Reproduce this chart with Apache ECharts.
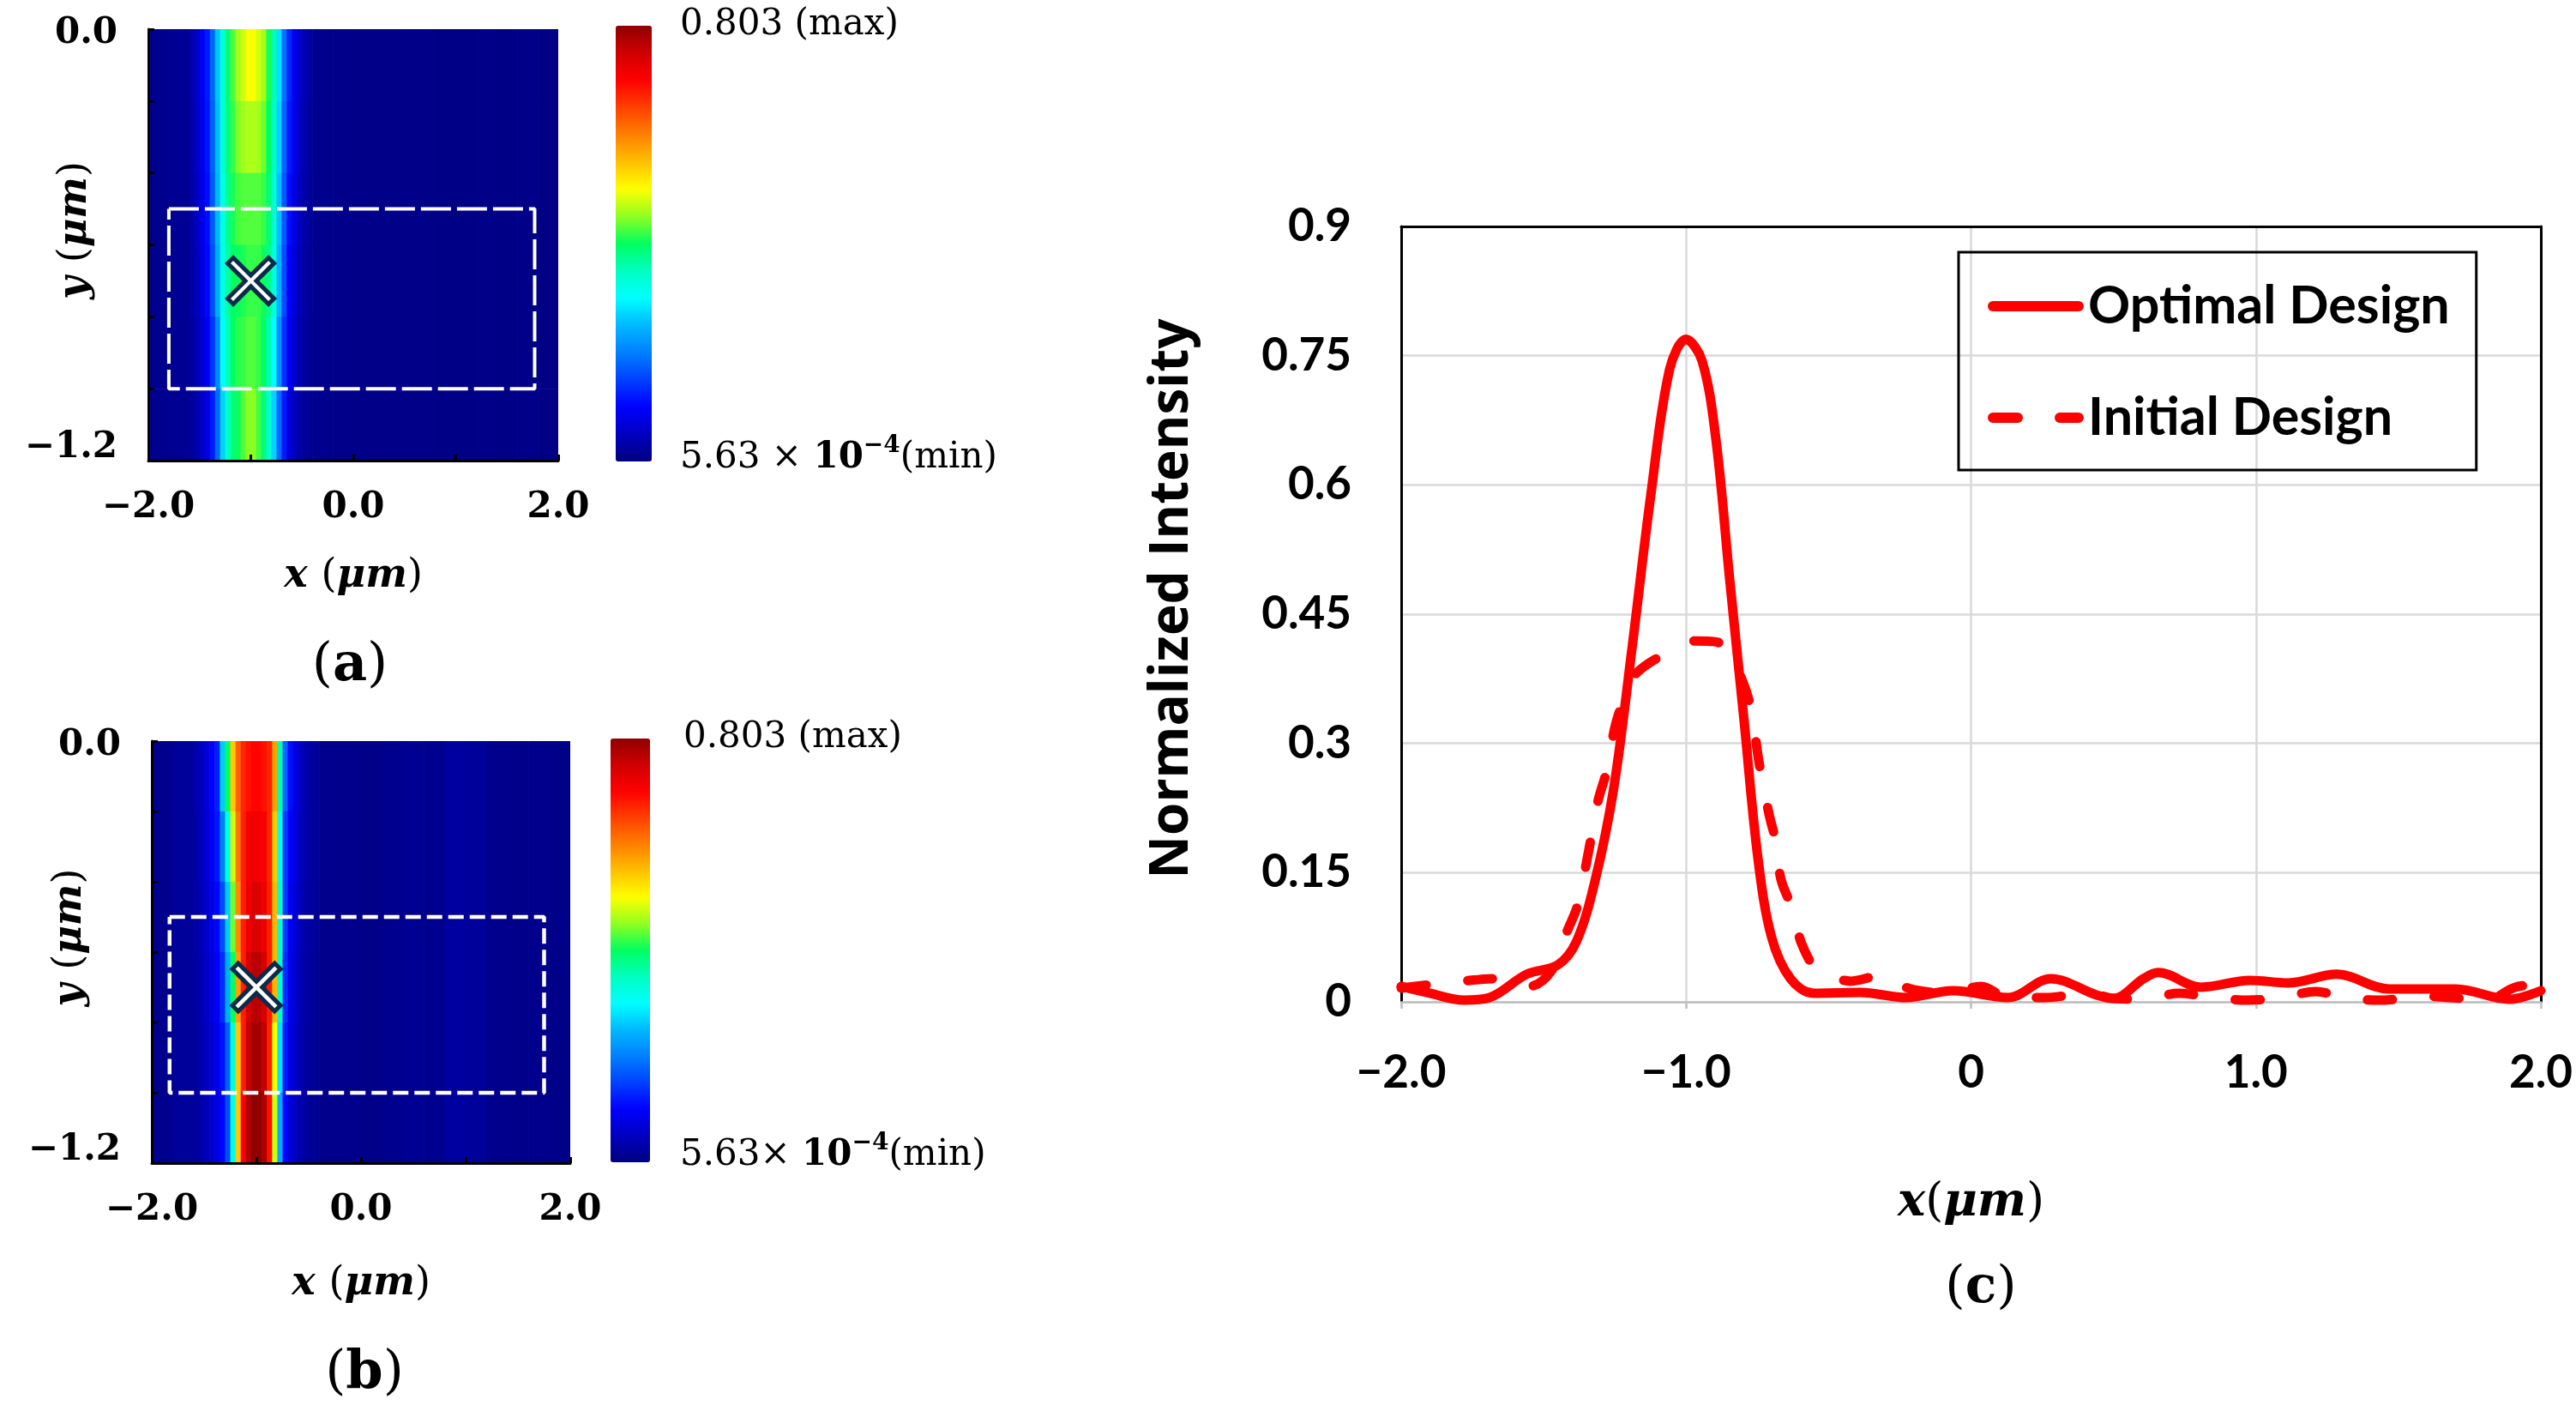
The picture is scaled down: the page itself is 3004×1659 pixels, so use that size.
<!DOCTYPE html>
<html>
<head>
<meta charset="utf-8">
<script src="https://cdn.jsdelivr.net/npm/echarts@6/dist/echarts.min.js"></script>
<style>
html, body { margin: 0; background: #fff; }
#chart { width: 3004px; height: 1659px; }
</style>
</head>
<body>
<div id="chart"></div>
<script>
// field maps: cell centres (um), beam part fine, background coarse
const beamX = [-1.575, -1.525, -1.475, -1.425, -1.375, -1.325, -1.275, -1.225, -1.175, -1.125, -1.075, -1.025,
  -0.975, -0.925, -0.875, -0.825, -0.775, -0.725, -0.675, -0.625, -0.575, -0.525, -0.475, -0.425]
const bgX = [-1.9, -1.7, -0.3, -0.1, 0.1, 0.3, 0.5, 0.7, 0.9, 1.1, 1.3, 1.5, 1.7, 1.9]
const rowY = [-0.1, -0.3, -0.5, -0.7, -0.9, -1.1]

// (a) initial design
const beamA = [
  [.035, .06, .09, .12, .18, .26, .33, .39, .43, .46, .48, .50, .50, .48, .46, .41, .36, .28, .19, .13, .09, .06, .04, .025],
  [.033, .056, .085, .115, .175, .255, .33, .385, .42, .445, .46, .465, .465, .46, .44, .40, .35, .27, .18, .12, .085, .055, .035, .022],
  [.03, .052, .08, .11, .17, .25, .32, .375, .41, .425, .43, .43, .43, .43, .42, .39, .34, .255, .17, .11, .08, .05, .03, .02],
  [.028, .048, .075, .105, .16, .24, .315, .365, .40, .405, .41, .42, .42, .42, .405, .38, .33, .245, .16, .10, .07, .045, .027, .018],
  [.025, .042, .065, .095, .14, .21, .30, .355, .40, .415, .42, .43, .43, .42, .40, .36, .30, .215, .14, .09, .06, .038, .024, .016],
  [.022, .036, .055, .08, .12, .185, .27, .345, .39, .405, .43, .45, .45, .425, .39, .34, .27, .185, .12, .075, .05, .03, .02, .015]
]
const bgA = [.012, .014, .012, .009, .007, .007, .006, .006, .005, .005, .006, .005, .007, .005]

// (b) optimal design
const beamB = [
  [.035, .05, .07, .095, .125, .265, .40, .546, .626, .675, .69, .70, .70, .69, .675, .578, .36, .177, .11, .075, .05, .035, .025, .02],
  [.033, .048, .068, .09, .118, .20, .32, .48, .61, .68, .71, .715, .715, .71, .675, .546, .32, .145, .10, .07, .048, .032, .024, .02],
  [.03, .044, .062, .082, .104, .16, .265, .44, .594, .68, .72, .74, .74, .72, .68, .56, .34, .145, .092, .065, .045, .03, .022, .018],
  [.028, .04, .056, .075, .096, .136, .24, .40, .578, .68, .745, .77, .77, .745, .68, .56, .34, .136, .085, .06, .04, .028, .02, .016],
  [.026, .036, .05, .066, .088, .112, .177, .337, .546, .68, .763, .787, .787, .763, .675, .50, .28, .12, .078, .055, .038, .026, .019, .015],
  [.024, .033, .045, .06, .08, .104, .16, .32, .546, .707, .78, .803, .803, .78, .69, .48, .24, .104, .07, .05, .035, .025, .018, .014]
]
const bgB = [.012, .02, .01, .01, .006, .012, .015, .012, .026, .02, .01, .008, .01, .006]

// dashed region and focal point (um)
const boxA = [[-1.8, -0.5], [1.77, -0.5], [1.77, -1.0], [-1.8, -1.0], [-1.8, -0.5]]
const boxB = [[-1.83, -0.5], [1.75, -0.5], [1.75, -1.0], [-1.83, -1.0], [-1.83, -0.5]]
const focusA = [[-1.0, -0.7]]
const focusB = [[-1.0, -0.7]]

// (c) cross sections
const optX = [-2.0, -1.9, -1.78, -1.69, -1.56, -1.45, -1.385, -1.32, -1.254, -1.19, -1.124, -1.058, -1.0, -0.944,
  -0.895, -0.847, -0.797, -0.748, -0.70, -0.634, -0.552, -0.39, -0.227, -0.063, 0.13, 0.28, 0.44, 0.5, 0.606, 0.657,
  0.808, 0.98, 1.112, 1.284, 1.466, 1.70, 1.89, 2.0]
const optY = [0.018, 0.01, 0.002, 0.005, 0.032, 0.043, 0.07, 0.14, 0.248, 0.41, 0.588, 0.734, 0.769, 0.744,
  0.652, 0.49, 0.328, 0.167, 0.075, 0.027, 0.01, 0.011, 0.005, 0.013, 0.005, 0.027, 0.008, 0.004, 0.027, 0.034,
  0.017, 0.025, 0.022, 0.032, 0.015, 0.015, 0.003, 0.013]
const initX = [-2.0, -1.9, -1.785, -1.67, -1.6, -1.55, -1.47, -1.42, -1.38, -1.345, -1.31, -1.28, -1.245, -1.2,
  -1.17, -1.08, -1.0, -0.97, -0.9, -0.862, -0.805, -0.772, -0.745, -0.709, -0.683, -0.667, -0.626, -0.594, -0.537,
  -0.48, -0.423, -0.31, -0.25, -0.2, -0.08, 0.035, 0.13, 0.26, 0.41, 0.5, 0.606, 0.73, 0.85, 0.97, 1.09, 1.21, 1.32,
  1.45, 1.57, 1.68, 1.81, 1.91, 2.0]
const initY = [0.016, 0.02, 0.024, 0.027, 0.02, 0.018, 0.037, 0.08, 0.113, 0.17, 0.232, 0.267, 0.325, 0.365,
  0.383, 0.403, 0.415, 0.419, 0.418, 0.412, 0.375, 0.34, 0.28, 0.218, 0.183, 0.142, 0.107, 0.067, 0.035,
  0.028, 0.024, 0.031, 0.02, 0.014, 0.01, 0.018, 0.005, 0.005, 0.01, 0.004, 0.003, 0.01, 0.005, 0.002, 0.005, 0.012, 0.004,
  0.002, 0.007, 0.005, 0.002, 0.017, 0.02]

const yTicksC = [0, 0.15, 0.3, 0.45, 0.6, 0.75, 0.9]

const FIELD_MAX = 0.803
const BEAM_STEP = 0.05
const BG_STEP = 0.2
const ROW_STEP = 0.2

const JET = ['#000080', '#0000c0', '#0000ff', '#0040ff', '#0080ff', '#00b8ff', '#00ffff', '#00ffc0', '#00ff60',
  '#90ff20', '#ffff00', '#ffc000', '#ff8000', '#ff4000', '#ff0000', '#d00000', '#900000']

function buildCells(beam, bg) {
  const out = []
  rowY.forEach((y, r) => {
    bgX.forEach((x, j) => out.push([x, y, bg[j], BG_STEP, ROW_STEP]))
    beamX.forEach((x, i) => out.push([x, y, beam[r][i], BEAM_STEP, ROW_STEP]))
  })
  return out
}

function heatCell(params, api) {
  const x = api.value(0), y = api.value(1), w = api.value(3), h = api.value(4)
  const a = api.coord([x - w / 2, y + h / 2])
  const b = api.coord([x + w / 2, y - h / 2])
  return {
    type: 'rect',
    shape: { x: a[0], y: a[1], width: b[0] - a[0] + 0.7, height: b[1] - a[1] + 0.7 },
    style: { fill: api.visual('color') }
  }
}

const zip = (xs, ys) => xs.map((x, i) => [x, ys[i]])

const serif = 'DejaVu Serif'
const tickSerif = { fontFamily: serif, fontWeight: 'bold', fontSize: 42, color: '#000' }
const nameRich = {
  i: { fontFamily: serif, fontStyle: 'italic', fontWeight: 'bold', fontSize: 46, color: '#000' },
  p: { fontFamily: serif, fontSize: 46, color: '#000' }
}

function heatX(grid, gap) {
  return {
    gridIndex: grid, type: 'value', min: -2, max: 2, interval: 1, z: 10,
    axisLine: { onZero: false, lineStyle: { color: '#000', width: 3 } },
    axisTick: { inside: true, length: 7, lineStyle: { color: '#000', width: 3 } },
    splitLine: { show: false },
    axisLabel: {
      margin: 34, ...tickSerif,
      formatter: v => (v === -2 ? '−2.0' : v === 0 ? '0.0' : v === 2 ? '2.0' : '')
    },
    name: '{i|x }{p|(}{i|μm}{p|)}', nameLocation: 'middle', nameGap: gap, nameMoveOverlap: false,
    nameTextStyle: { rich: nameRich }
  }
}
function heatY(grid, gap) {
  return {
    gridIndex: grid, type: 'value', min: -1.2, max: 0, interval: 0.2, z: 10,
    axisLine: { onZero: false, lineStyle: { color: '#000', width: 3 } },
    axisTick: { inside: true, length: 7, lineStyle: { color: '#000', width: 3 } },
    splitLine: { show: false },
    axisLabel: {
      margin: 36, ...tickSerif,
      formatter: v => (Math.abs(v) < 1e-6 ? '{hi|0.0}' : Math.abs(v + 1.2) < 1e-6 ? '{lo|−1.2}' : ''),
      rich: { lo: { ...tickSerif, padding: [0, 0, 30, 0] }, hi: { ...tickSerif, padding: [10, 0, 0, 0] } }
    },
    name: '{i|y }{p|(}{i|μm}{p|)}', nameLocation: 'middle', nameGap: gap, nameMoveOverlap: false,
    nameTextStyle: { rich: nameRich, padding: [0, 0, 0, 34] }
  }
}

const calibri = 'Lato'
const xLabC = { '-2': '−2.0', '-1': '−1.0', '0': '0', '1': '1.0', '2': '2.0' }
const crossPath = 'path://M0,12 L12,0 L50,38 L88,0 L100,12 L62,50 L100,88 L88,100 L50,62 L12,100 L0,88 L38,50 Z'

const minRich = {
  n: { fontFamily: serif, fontSize: 42, color: '#000', lineHeight: 56 },
  b: { fontFamily: serif, fontSize: 42, fontWeight: 'bold', color: '#000', lineHeight: 56 },
  s: { fontFamily: serif, fontSize: 28, fontWeight: 'bold', color: '#000', lineHeight: 56, verticalAlign: 'top' }
}
const panelRich = size => ({
  p: { fontFamily: serif, fontSize: size, color: '#000' },
  l: { fontFamily: serif, fontSize: size, fontWeight: 'bold', color: '#000' }
})

const chart = echarts.init(document.getElementById('chart'), null, { renderer: 'canvas' })
chart.setOption({
  animation: false,
  backgroundColor: '#fff',
  grid: [
    { left: 173, top: 34, width: 478, height: 503, outerBoundsMode: 'none' },
    { left: 177, top: 864, width: 488, height: 492, outerBoundsMode: 'none' },
    { left: 1634, top: 264, width: 1329, height: 904, outerBoundsMode: 'none' }
  ],
  xAxis: [
    heatX(0, 112),
    heatX(1, 118),
    {
      gridIndex: 2, type: 'value', min: -2, max: 2, interval: 1,
      axisLine: { onZero: false, lineStyle: { color: '#bfbfbf', width: 2.5 } },
      axisTick: { length: 8, lineStyle: { color: '#bfbfbf', width: 2.5 } },
      splitLine: { lineStyle: { color: '#d9d9d9', width: 2.5 } },
      axisLabel: {
        margin: 56, fontFamily: calibri, fontWeight: 'bold', fontSize: 53, color: '#000',
        formatter: v => xLabC[String(v)]
      },
      name: '{i|x}{p|(}{i|μm}{p|)}', nameLocation: 'middle', nameGap: 208, nameMoveOverlap: false,
      nameTextStyle: {
        rich: {
          i: { fontFamily: serif, fontStyle: 'italic', fontWeight: 'bold', fontSize: 54, color: '#000' },
          p: { fontFamily: serif, fontSize: 54, color: '#000' }
        }
      }
    },
    {
      gridIndex: 2, type: 'value', position: 'top', min: -2, max: 2, interval: 1,
      axisLine: { onZero: false, lineStyle: { color: '#000', width: 3 } },
      axisTick: { show: false }, axisLabel: { show: false }, splitLine: { show: false }
    }
  ],
  yAxis: [
    heatY(0, 62),
    heatY(1, 72),
    {
      gridIndex: 2, type: 'value', min: 0, max: 0.9, interval: 0.15,
      axisLine: { show: true, onZero: false, lineStyle: { color: '#000', width: 3 } },
      axisTick: { show: false },
      splitLine: { lineStyle: { color: '#d9d9d9', width: 2.5 } },
      axisLabel: {
        margin: 58, fontFamily: calibri, fontWeight: 'bold', fontSize: 53, color: '#000',
        formatter: v => String(yTicksC.find(t => Math.abs(t - v) < 1e-6))
      },
      name: 'Normalized Intensity', nameLocation: 'middle', nameGap: 236, nameMoveOverlap: false,
      nameTextStyle: { fontFamily: 'Open Sans', fontWeight: 'bold', fontSize: 62, color: '#000', padding: [0, 0, 0, 36] }
    },
    {
      gridIndex: 2, type: 'value', position: 'right', min: 0, max: 0.9, interval: 0.15,
      axisLine: { show: true, onZero: false, lineStyle: { color: '#000', width: 3 } },
      axisTick: { show: false }, axisLabel: { show: false }, splitLine: { show: false }
    }
  ],
  visualMap: [
    {
      type: 'continuous', seriesIndex: 0, dimension: 2, min: 0, max: FIELD_MAX,
      left: 718, top: 30, itemWidth: 42, itemHeight: 508, padding: 0,
      calculable: false, hoverLink: false, inRange: { color: JET }
    },
    {
      type: 'continuous', seriesIndex: 1, dimension: 2, min: 0, max: FIELD_MAX,
      left: 712, top: 861, itemWidth: 46, itemHeight: 494, padding: 0,
      calculable: false, hoverLink: false, inRange: { color: JET }
    }
  ],
  legend: {
    data: ['Optimal Design', 'Initial Design'],
    orient: 'vertical', left: 2284, top: 294,
    padding: [26, 31, 24, 34], itemGap: 56, itemWidth: 100, itemHeight: 14,
    borderColor: '#000', borderWidth: 3,
    itemStyle: { opacity: 0 },
    lineStyle: { width: 12, cap: 'round' },
    textStyle: { fontFamily: calibri, fontWeight: 'bold', fontSize: 61, color: '#000', lineHeight: 74, padding: [0, 0, 0, 6] }
  },
  graphic: [
    { type: 'text', left: 793, top: 8, style: { text: '0.803 (max)', font: '42px "DejaVu Serif"', fill: '#000' } },
    { type: 'text', left: 793, top: 506, style: { text: '{n|5.63 × }{b|10}{s|−4}{n|(min)}', rich: minRich } },
    { type: 'text', left: 797, top: 839, style: { text: '0.803 (max)', font: '42px "DejaVu Serif"', fill: '#000' } },
    { type: 'text', left: 793, top: 1319, style: { text: '{n|5.63× }{b|10}{s|−4}{n|(min)}', rich: minRich } },
    { type: 'text', x: 408, y: 777, style: { text: '{p|(}{l|a}{p|)}', align: 'center', verticalAlign: 'middle', rich: panelRich(62) } },
    { type: 'text', x: 425, y: 1602, style: { text: '{p|(}{l|b}{p|)}', align: 'center', verticalAlign: 'middle', rich: panelRich(62) } },
    { type: 'text', x: 2310, y: 1502, style: { text: '{p|(}{l|c}{p|)}', align: 'center', verticalAlign: 'middle', rich: panelRich(60) } }
  ],
  series: [
    {
      type: 'custom', xAxisIndex: 0, yAxisIndex: 0, renderItem: heatCell, clip: true, silent: true,
      dimensions: ['x', 'y', 'v', 'w', 'h'], encode: { x: 0, y: 1 }, data: buildCells(beamA, bgA)
    },
    {
      type: 'custom', xAxisIndex: 1, yAxisIndex: 1, renderItem: heatCell, clip: true, silent: true,
      dimensions: ['x', 'y', 'v', 'w', 'h'], encode: { x: 0, y: 1 }, data: buildCells(beamB, bgB)
    },
    {
      type: 'line', xAxisIndex: 0, yAxisIndex: 0, data: boxA, symbol: 'none', z: 5, silent: true,
      lineStyle: { color: '#fff', width: 4, type: [35, 7] }
    },
    {
      type: 'line', xAxisIndex: 1, yAxisIndex: 1, data: boxB, symbol: 'none', z: 5, silent: true,
      lineStyle: { color: '#fff', width: 4.5, type: [18, 7] }
    },
    {
      type: 'scatter', xAxisIndex: 0, yAxisIndex: 0, data: focusA, symbol: crossPath, symbolSize: 54, z: 6,
      itemStyle: { color: '#fff', borderColor: '#0c2a4a', borderWidth: 5, opacity: 1 }
    },
    {
      type: 'scatter', xAxisIndex: 1, yAxisIndex: 1, data: focusB, symbol: crossPath, symbolSize: 56, z: 6,
      itemStyle: { color: '#fff', borderColor: '#0c2a4a', borderWidth: 5, opacity: 1 }
    },
    {
      name: 'Optimal Design', type: 'line', xAxisIndex: 2, yAxisIndex: 2, data: zip(optX, optY),
      smooth: 0.35, symbol: 'none', z: 4,
      itemStyle: { color: '#ff0000' },
      lineStyle: { color: '#ff0000', width: 11, cap: 'round', join: 'round' }
    },
    {
      name: 'Initial Design', type: 'line', xAxisIndex: 2, yAxisIndex: 2, data: zip(initX, initY),
      smooth: 0.35, symbol: 'none', z: 3,
      itemStyle: { color: '#ff0000' },
      lineStyle: { color: '#ff0000', width: 11, type: [29, 49], cap: 'round', join: 'round' }
    }
  ]
})
</script>
</body>
</html>
